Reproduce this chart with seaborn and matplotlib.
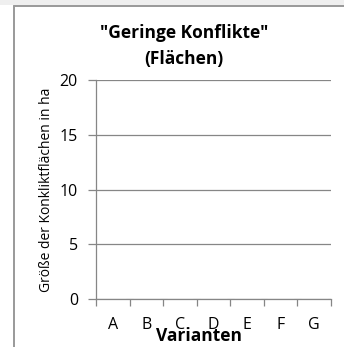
import matplotlib
matplotlib.use("Agg")
import matplotlib.pyplot as plt
import seaborn as sns
import pandas as pd
from matplotlib.lines import Line2D
from matplotlib.patches import Rectangle
from matplotlib.ticker import FixedLocator

# Conflict areas per variant (ha)
varianten = ["A", "B", "C", "D", "E", "F", "G"]
flaechen = [0, 0, 0, 0, 0, 0, 0]
y_ticks = [0, 5, 10, 15, 20]

df = pd.DataFrame({"Variante": varianten, "Fläche": flaechen})

sns.set_theme(style="white")
plt.rcParams["font.family"] = ["Open Sans", "DejaVu Sans"]

W, H = 344, 347
fig = plt.figure(figsize=(W / 100, H / 100), dpi=100)
fig.patch.set_facecolor("white")

# outer frame of the chart object
fig.add_artist(Rectangle((0, 1 - 5 / H), 1, 5 / H, transform=fig.transFigure,
                         facecolor="#efefef", edgecolor="none"))
fig.add_artist(Line2D([13.5 / W, 13.5 / W], [0, 1 - 5.5 / H], transform=fig.transFigure,
                      color="#999999", lw=1.4))
fig.add_artist(Line2D([13.5 / W, 1], [1 - 5.5 / H, 1 - 5.5 / H], transform=fig.transFigure,
                      color="#999999", lw=1.4))

ax = fig.add_axes([96 / W, 1 - 299 / H, (331 - 96) / W, (299 - 80) / H])
sns.barplot(data=df, x="Variante", y="Fläche", ax=ax, color="#4f81bd")

ax.set_ylim(0, 20)
ax.set_xlim(-0.5, len(varianten) - 0.5)
ax.set_yticks(y_ticks)
ax.set_yticklabels([str(t) for t in y_ticks])
ax.yaxis.grid(True, color="#868686", lw=0.9)
ax.set_axisbelow(True)

for s in ["top", "right"]:
    ax.spines[s].set_visible(False)
for s in ["left", "bottom"]:
    ax.spines[s].set_color("#868686")
    ax.spines[s].set_linewidth(0.9)

ax.tick_params(axis="y", which="both", left=True, length=6, width=0.9,
               color="#868686", pad=7, labelsize=11.5, labelcolor="black")

# category labels on major ticks, separators on minor ticks
ax.set_xticks(list(range(len(varianten))))
ax.set_xticklabels(varianten)
ax.xaxis.set_minor_locator(FixedLocator([i - 0.5 for i in range(len(varianten) + 1)]))
ax.tick_params(axis="x", which="major", bottom=True, length=0, pad=13,
               labelsize=11.5, labelcolor="black")
ax.tick_params(axis="x", which="minor", bottom=True, length=5, width=0.9,
               color="#868686")

ax.set_xlabel("Varianten", fontsize=12.5, fontweight="bold", color="black")
ax.xaxis.set_label_coords((199 - 96) / 235, (299 - 327) / 219)
ax.set_ylabel("Größe der Konkliktflächen in ha", fontsize=10, labelpad=4,
              color="black")

fig.text(184 / W, 1 - 46 / H, "\"Geringe Konflikte\"\n(Flächen)", ha="center",
         va="center", fontsize=12.5, fontweight="bold", linespacing=1.55,
         color="black")

fig.savefig("out.png", dpi=100)
